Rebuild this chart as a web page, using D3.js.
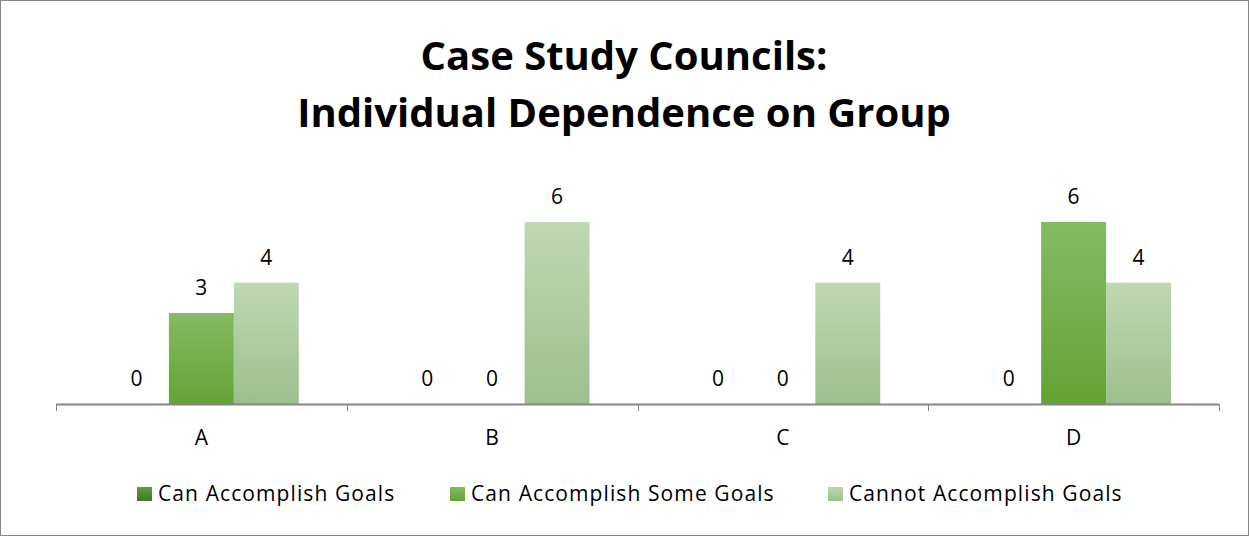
<!DOCTYPE html>
<html>
<head>
<meta charset="utf-8">
<script src="https://cdn.jsdelivr.net/npm/d3@7"></script>
<style>
  body { margin: 0; background: #fff; }
  text { font-family: "Open Sans", "Noto Sans", sans-serif; fill: #000; }
</style>
</head>
<body>
<div id="chart"></div>
<script>
// chart data
var categories = ["A", "B", "C", "D"];
var seriesNames = ["Can Accomplish Goals", "Can Accomplish Some Goals", "Cannot Accomplish Goals"];
var canGoals = [0, 0, 0, 0];
var someGoals = [3, 0, 0, 6];
var cannotGoals = [4, 6, 4, 4];
var titleLines = ["Case Study Councils:", "Individual Dependence on Group"];

var svgWidth = 1249, svgHeight = 536;
var margin = { top: 222, right: 30, bottom: 132, left: 56 };
var width = 1219 - margin.left;
var height = 404 - margin.top;

var svg = d3.select("#chart").append("svg")
  .attr("width", svgWidth)
  .attr("height", svgHeight);

// gradients for the bars (lighter at top)
var defs = svg.append("defs");
var grads = [
  ["g0", "#5f9e3e", "#3f7a26"],
  ["g1", "#84bb62", "#62a333"],
  ["g2", "#bed8b2", "#9dbf8d"]
];
grads.forEach(function(g) {
  var lg = defs.append("linearGradient").attr("id", g[0])
    .attr("x1", 0).attr("y1", 0).attr("x2", 0).attr("y2", 1);
  lg.append("stop").attr("offset", "0%").attr("stop-color", g[1]);
  lg.append("stop").attr("offset", "100%").attr("stop-color", g[2]);
});

// outer border
svg.append("rect")
  .attr("x", 0.5).attr("y", 0.5)
  .attr("width", svgWidth - 1).attr("height", svgHeight - 1)
  .attr("fill", "#fff").attr("stroke", "#868686");

// title
svg.append("text")
  .attr("x", 624).attr("y", 70)
  .attr("text-anchor", "middle")
  .style("font-size", "40px").style("font-weight", "bold")
  .text(titleLines[0]);
svg.append("text")
  .attr("x", 624).attr("y", 127)
  .attr("text-anchor", "middle")
  .style("font-size", "40px").style("font-weight", "bold")
  .text(titleLines[1]);

var chartGroup = svg.append("g")
  .attr("transform", `translate(${margin.left}, ${margin.top})`);

var x0 = d3.scaleBand().domain(categories).range([0, width])
  .paddingInner(0).paddingOuter(0);
var x1 = d3.scaleBand().domain([0, 1, 2])
  .range([x0.bandwidth() * 0.165, x0.bandwidth() * 0.835]);
var y = d3.scaleLinear().domain([0, 6]).range([height, 0]);

var allSeries = [canGoals, someGoals, cannotGoals];
var groups = chartGroup.selectAll(".cat")
  .data(categories)
  .enter().append("g")
  .attr("class", "cat")
  .attr("transform", d => `translate(${x0(d)},0)`);

groups.each(function(cat, ci) {
  var g = d3.select(this);
  allSeries.forEach(function(vals, si) {
    var v = vals[ci];
    if (v > 0) {
      g.append("rect")
        .attr("x", x1(si))
        .attr("y", y(v))
        .attr("width", x1.bandwidth())
        .attr("height", height - y(v))
        .attr("fill", `url(#g${si})`);
    }
    g.append("text")
      .attr("x", x1(si) + x1.bandwidth() / 2)
      .attr("y", y(v) - 18)
      .attr("text-anchor", "middle")
      .style("font-size", "21px")
      .text(v);
  });
});

// x axis
var bottomAxis = d3.axisBottom(x0).tickSize(0).tickPadding(0);
var xAxis = chartGroup.append("g")
  .attr("transform", `translate(0, ${height})`)
  .call(bottomAxis);
xAxis.select(".domain").remove();
xAxis.append("line")
  .attr("x1", 0).attr("x2", width).attr("y1", 0.5).attr("y2", 0.5)
  .attr("stroke", "#868686").attr("stroke-width", 2);
xAxis.selectAll(".sep")
  .data(d3.range(categories.length + 1))
  .enter().append("line")
  .attr("x1", i => Math.round(i * x0.bandwidth()) + 0.5)
  .attr("x2", i => Math.round(i * x0.bandwidth()) + 0.5)
  .attr("y1", 0).attr("y2", 7)
  .attr("stroke", "#868686");
xAxis.selectAll(".tick text")
  .attr("y", 41).attr("dy", 0)
  .style("font-size", "21px")
  .style("font-family", "'Open Sans', sans-serif")
  .attr("fill", "#000");

// legend
var legendX = [137, 450, 828];
var legend = svg.append("g");
seriesNames.forEach(function(name, i) {
  legend.append("rect")
    .attr("x", legendX[i]).attr("y", 487)
    .attr("width", 15).attr("height", 14)
    .attr("fill", `url(#g${i})`);
  legend.append("text")
    .attr("x", legendX[i] + 21).attr("y", 501)
    .style("font-size", "21px")
    .style("letter-spacing", "1.1px")
    .text(name);
});
</script>
</body>
</html>
